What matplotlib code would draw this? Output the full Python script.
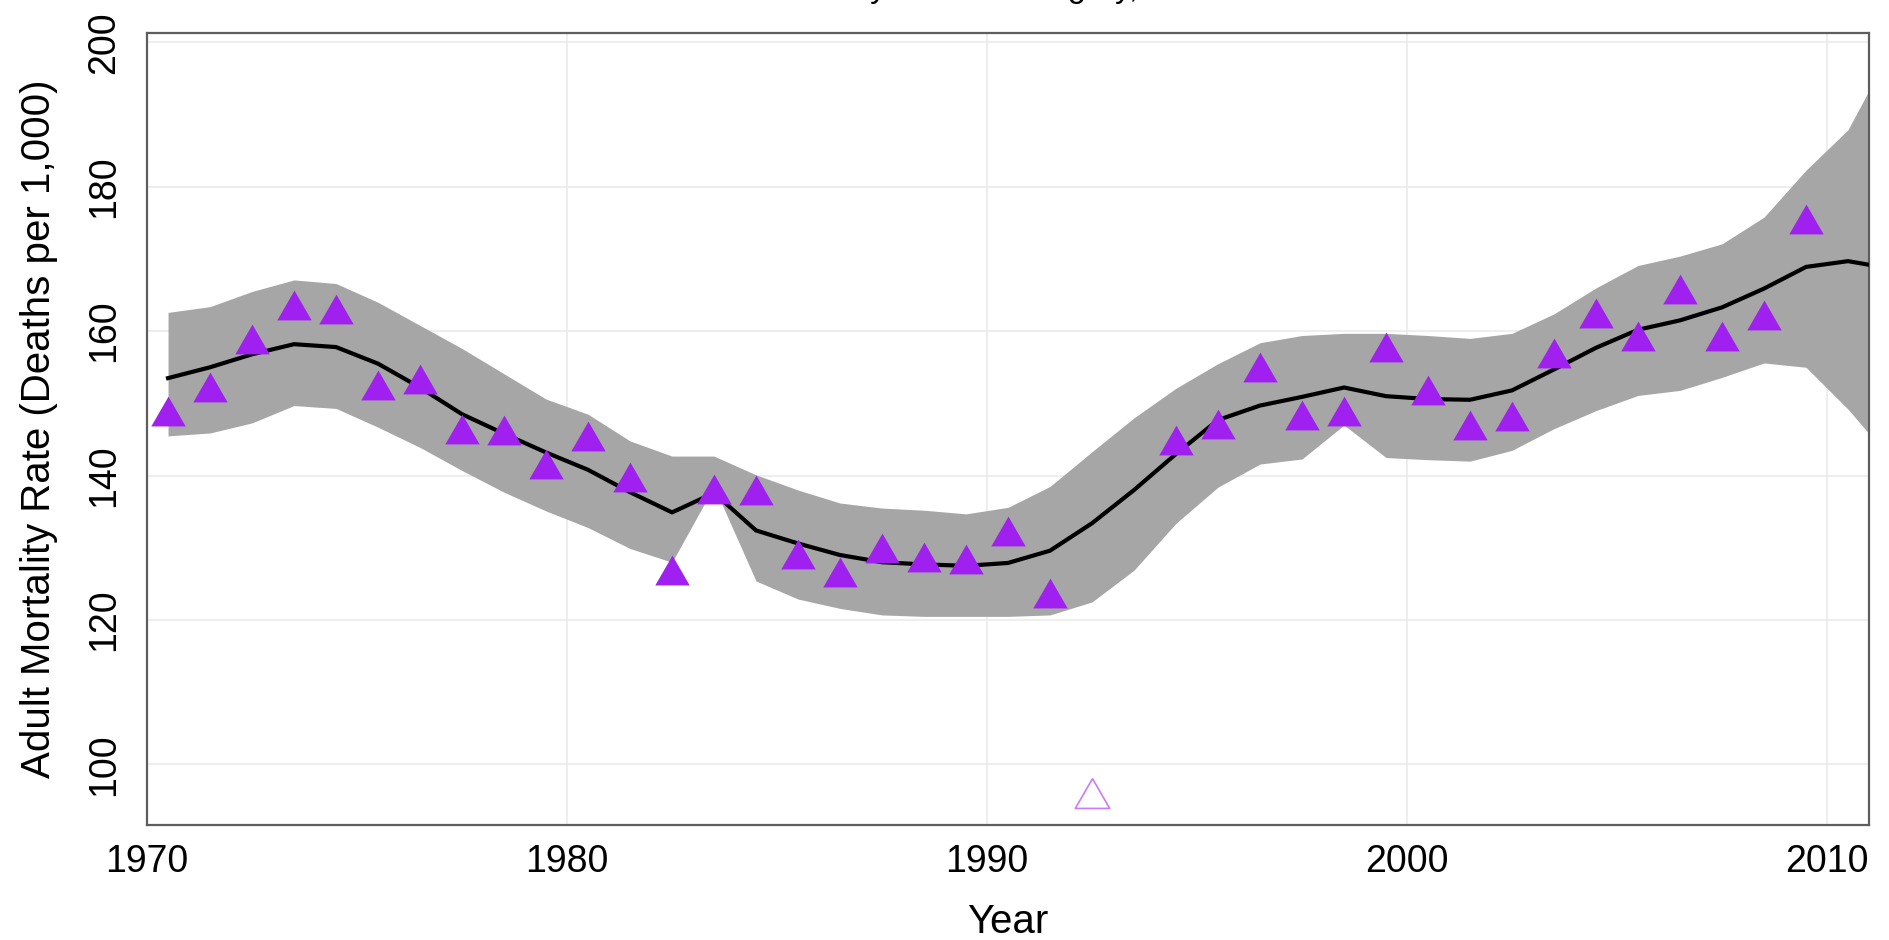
import matplotlib
matplotlib.use("Agg")
import matplotlib.pyplot as plt
import numpy as np

# yearly estimates (mid-year positions)
years = np.arange(1970.5, 2012.0, 1.0)
fit = [153.5, 155.0, 156.8, 158.2, 157.8, 155.5, 152.2, 148.5, 145.8, 143.2,
       140.8, 137.7, 134.9, 137.6, 132.4, 130.6, 129.0, 128.0, 127.7, 127.5,
       127.9, 129.6, 133.4, 138.0, 143.0, 147.7, 149.7, 150.9, 152.2, 151.0,
       150.6, 150.5, 151.8, 154.7, 157.7, 160.2, 161.5, 163.3, 165.9, 168.9,
       169.7, 168.7]
upper = [162.6, 163.4, 165.5, 167.1, 166.6, 164.0, 160.8, 157.6, 154.1, 150.6,
         148.5, 144.8, 142.7, 142.7, 140.1, 138.0, 136.2, 135.5, 135.2, 134.7,
         135.6, 138.5, 143.3, 148.0, 152.1, 155.5, 158.4, 159.4, 159.7, 159.7,
         159.4, 159.0, 159.7, 162.4, 166.0, 169.1, 170.4, 172.1, 175.8, 182.3,
         187.9, 198.8]
lower = [145.5, 145.9, 147.3, 149.7, 149.3, 146.7, 143.9, 140.7, 137.7, 135.1,
         132.8, 129.9, 128.0, 138.5, 125.4, 122.9, 121.6, 120.7, 120.5, 120.5,
         120.5, 120.7, 122.5, 126.9, 133.4, 138.4, 141.6, 142.3, 147.0, 142.5,
         142.2, 142.0, 143.5, 146.5, 149.0, 151.1, 151.8, 153.6, 155.6, 155.0,
         149.2, 142.4]

# observed data points
obs_years = [1970.5, 1971.5, 1972.5, 1973.5, 1974.5, 1975.5, 1976.5, 1977.5,
             1978.5, 1979.5, 1980.5, 1981.5, 1982.5, 1983.5, 1984.5, 1985.5,
             1986.5, 1987.5, 1988.5, 1989.5, 1990.5, 1991.5, 1994.5, 1995.5,
             1996.5, 1997.5, 1998.5, 1999.5, 2000.5, 2001.5, 2002.5, 2003.5,
             2004.5, 2005.5, 2006.5, 2007.5, 2008.5, 2009.5]
obs_vals = [148.3, 151.6, 158.2, 162.9, 162.4, 151.8, 152.7, 145.8, 145.6, 140.9,
            144.8, 139.1, 126.3, 137.5, 137.3, 128.4, 126.0, 129.3, 128.1, 127.7,
            131.7, 123.0, 144.2, 146.5, 154.4, 147.7, 148.3, 157.1, 151.1, 146.3,
            147.5, 156.3, 161.8, 158.6, 165.1, 158.6, 161.6, 174.9]
# excluded data point
out_years = [1992.5]
out_vals = [95.4]

plt.rcParams['font.family'] = ['Liberation Sans', 'DejaVu Sans']

# triangle centred on its centroid (like R's pch 17)
tri = [(0, 1), (-0.866, -0.5), (0.866, -0.5), (0, 1)]

fig = plt.figure(figsize=(18.9, 9.4), dpi=100)
ax = fig.add_axes([0.0778, 0.1223, 0.9111, 0.8426])

ax.fill_between(years, lower, upper, color="#a6a6a6", lw=0, zorder=2)
ax.plot(years, fit, color="black", lw=3.0, zorder=3)
ax.plot(obs_years, obs_vals, ls="none", marker=tri, ms=28.6,
        color="#a020f0", mec="#a020f0", mew=0, zorder=4)
ax.plot(out_years, out_vals, ls="none", marker=tri, ms=28.6,
        mfc="none", mec="#c77cff", mew=1.2, zorder=4)

ax.set_xlim(1970, 2011)
ax.set_ylim(91.6, 201.3)
ax.set_xticks([1970, 1980, 1990, 2000, 2010])
ax.set_yticks([100, 120, 140, 160, 180, 200])
ax.grid(True, color="#ebebeb", lw=1.2, zorder=0)
ax.set_axisbelow(True)
for s in ax.spines.values():
    s.set_color("#5e5e5e")
    s.set_linewidth(1.6)

ax.tick_params(axis="both", length=0, labelsize=27)
ax.tick_params(axis="x", pad=14)
ax.tick_params(axis="y", pad=18)
for lab in ax.get_yticklabels():
    lab.set_rotation(90)
    lab.set_va("center")
    lab.set_ha("right")

ax.set_xlabel("Year", fontsize=29)
ax.set_ylabel("Adult Mortality Rate (Deaths per 1,000)", fontsize=29)
ax.xaxis.set_label_coords(0.5, -0.1225)
ax.yaxis.set_label_coords(-0.0627, 0.5)
ax.xaxis.label.set_va("center")
ax.yaxis.label.set_va("center")

# title sits above the canvas, only its descenders show
fig.text(0.5245, 1.0035, "Adult Mortality Rate in Hungary, 1970-2010",
         fontsize=23.5, ha="center", va="baseline")

fig.savefig("out.png", dpi=100)
